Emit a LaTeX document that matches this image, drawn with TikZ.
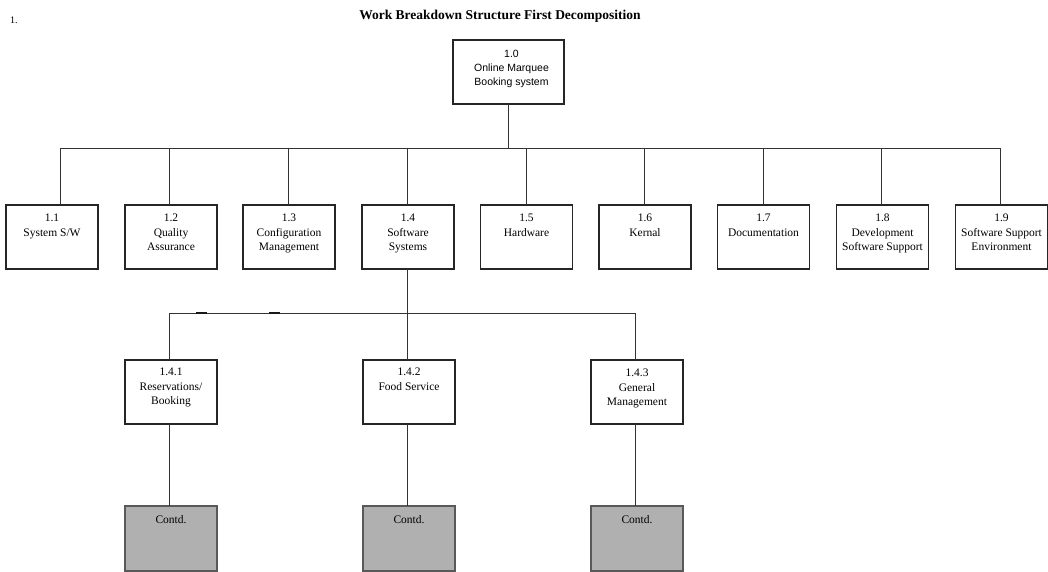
\documentclass[tikz,border=0pt]{standalone}
\usepackage{fontspec}
\setmainfont{Liberation Serif}
\newfontfamily\uisans{Liberation Sans}
\begin{document}
\begin{tikzpicture}[x=1pt,y=-1pt,
  box/.style={draw=black!85,line width=1.1pt,fill=white,minimum width=92pt,minimum height=64pt,inner sep=0pt,outer sep=0pt},
  contd/.style={draw=black!65,line width=1.3pt,fill=black!31,minimum width=92pt,minimum height=65pt,inner sep=0pt,outer sep=0pt},
  lbl/.style={anchor=north,inner sep=0pt,align=center,font=\fontsize{11.5}{14.5}\selectfont},
  conn/.style={draw=black!80,line width=0.9pt},
  tick/.style={draw=black!90,line width=1.6pt}
]
\useasboundingbox (0,0) rectangle (1048,572);
\fill[white] (0,0) rectangle (1048,572);

\node[anchor=base west,inner sep=0pt,font=\fontsize{10}{12}\selectfont] (num) at (10,24) {1.};
\node[inner sep=0pt,font=\bfseries\fontsize{13.5}{16}\selectfont] (title) at (500,16) {Work Breakdown Structure First Decomposition};

% root
\node[box,minimum width=111pt] (root) at (508.5,72) {};
\node[anchor=north,inner sep=0pt,align=center,font=\uisans\fontsize{10.5}{14}\selectfont] (rootl) at ([xshift=3pt,yshift=-10pt]root.north) {1.0\\Online Marquee\\Booking system};

% level 1
\foreach \n/\cx/\t in {b11/52/{1.1\\System S/W},
                      b12/171/{1.2\\Quality\\Assurance},
                      b13/289/{1.3\\Configuration\\Management},
                      b14/408/{1.4\\Software\\Systems},
                      b15/526.5/{1.5\\Hardware},
                      b16/645/{1.6\\Kernal},
                      b17/763.5/{1.7\\Documentation},
                      b18/882.5/{1.8\\Development\\Software Support},
                      b19/1001.5/{1.9\\Software Support\\Environment}}{
  \node[box] (\n) at (\cx,237) {};
  \node[lbl] (\n l) at ([yshift=-9pt]\n.north) {\t};
}

% level 2
\foreach \n/\cx/\t/\dy in {c1/171/{1.4.1\\Reservations/\\Booking}/8,
                          c2/409/{1.4.2\\Food Service}/8,
                          c3/637/{1.4.3\\General\\Management}/9}{
  \node[box] (\n) at (\cx,392) {};
  \node[lbl] (\n l) at ([yshift=-\dy pt]\n.north) {\t};
  \node[contd] (\n d) at (\cx,538.5) {};
  \node[lbl] (\n dl) at ([yshift=-9pt]\n d.north) {Contd.};
}

% connectors level 0 -> 1
\coordinate (bus) at (508,148);
\draw[conn] (bus |- root.south) -- (bus);
\foreach \n/\x in {b11/60,b12/169,b13/288,b14/407,b15/526,b16/644,b17/763,b18/881,b19/1000}{
  \coordinate (t\n) at (\x,148);
  \draw[conn] (t\n) -- (t\n |- \n.north);
}
\draw[conn] (tb11) -- (tb19);

% connectors level 1 -> 2
\coordinate (bus2) at (407,313);
\draw[conn] (bus2 |- b14.south) -- (bus2);
\foreach \n/\x in {c1/169,c2/407,c3/635}{
  \coordinate (t\n) at (\x,313);
  \draw[conn] (t\n) -- (t\n |- \n.north);
  \draw[conn] (t\n |- \n.south) -- (t\n |- \n d.north);
}
\draw[conn] (tc1) -- (tc3);
\coordinate (k1a) at (196,313); \coordinate (k1b) at (207,313);
\coordinate (k2a) at (269,313); \coordinate (k2b) at (280,313);
\draw[tick] (k1a) -- (k1b);
\draw[tick] (k2a) -- (k2b);
\end{tikzpicture}
\end{document}
